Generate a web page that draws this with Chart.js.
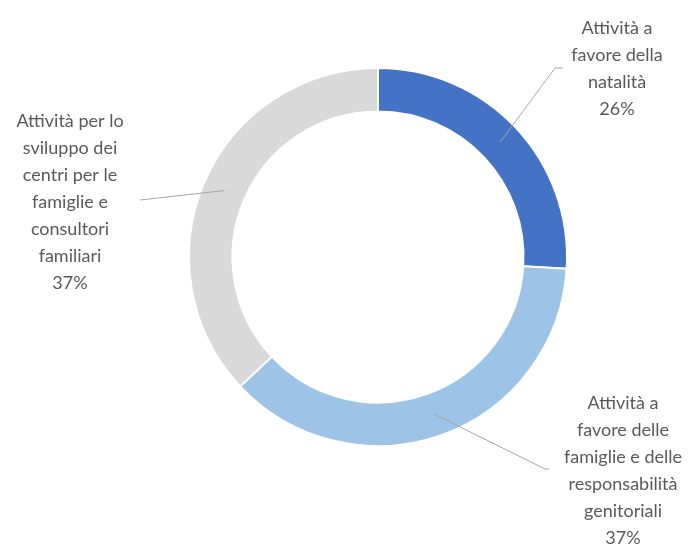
<!DOCTYPE html>
<html>
<head>
<meta charset="utf-8">
<script src="https://cdn.jsdelivr.net/npm/chart.js@4.4.1/dist/chart.umd.min.js"></script>
<style>
  html, body { margin: 0; padding: 0; background: #fff; }
  #wrap { width: 692px; height: 545px; }
</style>
</head>
<body>
<div id="wrap"><canvas id="donut" width="692" height="545"></canvas></div>
<script>
// slices, clockwise from the top
const categories = [
    ["Attività a", "favore della", "natalità"],
    ["Attività a", "favore delle", "famiglie e delle", "responsabilità", "genitoriali"],
    ["Attività per lo", "sviluppo dei", "centri per le", "famiglie e", "consultori", "familiari"]
];
const shares = [26, 37, 37];
const sliceColors = ['#4472C4', '#9DC3E6', '#D9D9D9'];

// where each callout sits: text centre x, first baseline y, elbow of the leader line
const calloutPos = [
    { x: 617, y: 34, elbow: [555, 68], end: [563, 68] },
    { x: 623, y: 409, elbow: [545, 469], end: [549, 469] },
    { x: 70, y: 127, elbow: [140, 200], end: null }
];

const lineH = 27;

// draws the text blocks and leader lines next to each slice
const callouts = {
    id: 'callouts',
    afterDraw(chart) {
        const ctx = chart.ctx;
        const arcs = chart.getDatasetMeta(0).data;
        ctx.save();
        ctx.font = '18px Lato, "Open Sans", sans-serif';
        ctx.fillStyle = '#595959';
        ctx.textAlign = 'center';
        ctx.textBaseline = 'alphabetic';
        arcs.forEach((arc, i) => {
            const p = calloutPos[i];
            const lines = categories[i].concat([shares[i] + '%']);
            lines.forEach((t, k) => ctx.fillText(t, p.x, p.y + k * lineH));

            const a = arc.tooltipPosition();
            ctx.beginPath();
            ctx.strokeStyle = '#A6A6A6';
            ctx.lineWidth = 1;
            ctx.moveTo(a.x, a.y);
            ctx.lineTo(p.elbow[0], p.elbow[1]);
            if (p.end) ctx.lineTo(p.end[0], p.end[1]);
            ctx.stroke();
        });
        ctx.restore();
    }
};

var ctxD = document.getElementById('donut').getContext('2d');
var chart = new Chart(ctxD, {
    type: 'doughnut',
    data: {
        labels: categories.map(c => c.join(' ')),
        datasets: [{
            data: shares,
            backgroundColor: sliceColors,
            borderColor: '#ffffff',
            borderWidth: 2
        }]
    },
    options: {
        responsive: false,
        animation: false,
        cutout: '77%',
        layout: { padding: { left: 188, right: 124, top: 67, bottom: 98 } },
        plugins: {
            legend: { display: false },
            tooltip: { enabled: false }
        }
    },
    plugins: [callouts]
});
</script>
</body>
</html>
